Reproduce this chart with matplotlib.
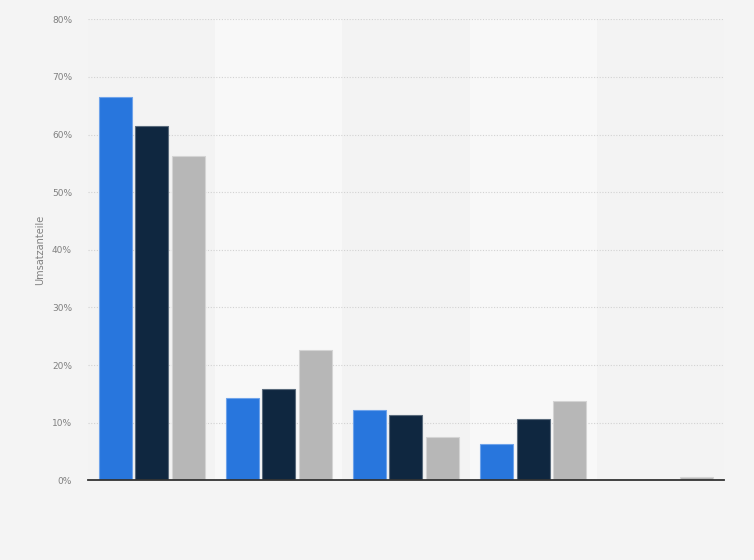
import matplotlib
matplotlib.use("Agg")
import matplotlib.pyplot as plt
import numpy as np

categories = ["Kategorie 1", "Kategorie 2", "Kategorie 3", "Kategorie 4", "Kategorie 5"]
series_names = ["Serie 1", "Serie 2", "Serie 3"]
series_a = [66.5, 14.3, 12.2, 6.3, 0.1]
series_b = [61.5, 15.9, 11.3, 10.6, 0.1]
series_c = [56.2, 22.7, 7.5, 13.8, 0.6]
y_ticks = [0, 10, 20, 30, 40, 50, 60, 70, 80]
y_tick_labels = ["0%", "10%", "20%", "30%", "40%", "50%", "60%", "70%", "80%"]
y_label = "Umsatzanteile"

colors = ["#2876dd", "#0f2740", "#b7b7b7"]
edge_colors = ["#6fa3ea", "#5a6b7c", "#d4d4d4"]

fig = plt.figure(figsize=(7.54, 5.60), dpi=100)
fig.patch.set_facecolor("#f4f4f4")
ax = fig.add_axes([0.1167, 0.1423, 0.8433, 0.8232])
ax.set_facecolor("#f3f3f3")

x = np.arange(len(categories))
# alternating bands
for i in range(len(categories)):
    if i % 2 == 1:
        ax.axvspan(i - 0.5, i + 0.5, color="#f8f8f8", zorder=0, lw=0)

width = 0.26
offset = 0.287
for k, vals in enumerate([series_a, series_b, series_c]):
    ax.bar(x + (k - 1) * offset, vals, width=width, color=colors[k],
           edgecolor=edge_colors[k], linewidth=0.8, zorder=3, label=series_names[k])

ax.set_xlim(-0.5, len(categories) - 0.5)
ax.set_ylim(0, 80)
ax.set_yticks(y_ticks)
ax.set_yticklabels(y_tick_labels, fontsize=6.5, color="#808080")
ax.set_xticks([])
ax.tick_params(axis="y", length=0, pad=11.5)
ax.yaxis.grid(True, linestyle=(0, (1, 1.5)), color="#d2d2d2", linewidth=0.8, zorder=1)
ax.set_axisbelow(True)
for s in ["top", "right", "left"]:
    ax.spines[s].set_visible(False)
ax.spines["bottom"].set_color("#333333")
ax.spines["bottom"].set_linewidth(1.3)
ax.spines["bottom"].set_zorder(4)
ax.set_ylabel(y_label, fontsize=7, color="#808080", labelpad=5)

fig.savefig("out.png", dpi=100, facecolor=fig.get_facecolor())
